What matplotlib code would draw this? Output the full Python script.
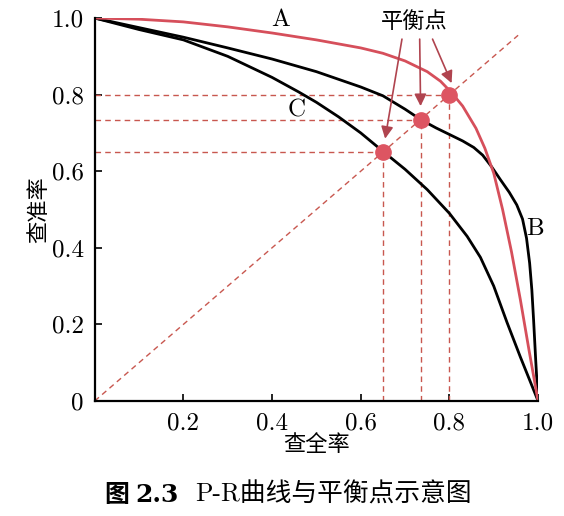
import matplotlib
matplotlib.use("Agg")
import matplotlib.pyplot as plt

# curve A (red)
a_x = [0, 0.1, 0.2, 0.3, 0.4, 0.5, 0.6, 0.65, 0.7, 0.75, 0.78, 0.805, 0.83, 0.86, 0.88, 0.9, 0.92, 0.94, 0.96, 0.98, 1.0]
a_y = [1.0, 0.997, 0.99, 0.977, 0.961, 0.943, 0.922, 0.908, 0.888, 0.86, 0.835, 0.805, 0.77, 0.712, 0.66, 0.595, 0.5, 0.39, 0.265, 0.13, 0.0]
# curve B (black, outer)
b_x = [0, 0.1, 0.2, 0.3, 0.4, 0.5, 0.55, 0.6, 0.65, 0.7, 0.735, 0.77, 0.8, 0.83, 0.855, 0.875, 0.895, 0.915, 0.935, 0.952, 0.965, 0.974, 0.981, 0.986, 0.99, 0.995, 1.0]
b_y = [1.0, 0.975, 0.95, 0.922, 0.893, 0.86, 0.84, 0.82, 0.797, 0.762, 0.735, 0.713, 0.696, 0.679, 0.662, 0.642, 0.612, 0.578, 0.545, 0.512, 0.475, 0.425, 0.36, 0.29, 0.21, 0.1, 0.0]
# curve C (black, inner)
c_x = [0, 0.1, 0.2, 0.3, 0.4, 0.46, 0.5, 0.55, 0.6, 0.65, 0.7, 0.75, 0.8, 0.84, 0.87, 0.9, 0.93, 0.96, 1.0]
c_y = [1.0, 0.97, 0.943, 0.9, 0.845, 0.807, 0.78, 0.742, 0.7, 0.652, 0.605, 0.552, 0.49, 0.43, 0.375, 0.3, 0.205, 0.115, 0.0]

# break-even points
bep = [0.65, 0.735, 0.80]

red = "#d64f5b"
dash = "#c8574f"
dot = "#dd5562"
arrow_c = "#b0444f"

fig = plt.figure(figsize=(5.64, 5.16), dpi=100)
ax = fig.add_axes([0.168, 0.223, 0.786, 0.742])

# dashed guide lines
ax.plot([0, 0.955], [0, 0.955], ls=(0, (4, 3)), color=dash, lw=1.0)
for p in bep:
    ax.plot([0, p], [p, p], ls=(0, (4, 3)), color=dash, lw=1.0)
    ax.plot([p, p], [0, p], ls=(0, (4, 3)), color=dash, lw=1.0)

ax.plot(c_x, c_y, color="black", lw=2.0)
ax.plot(b_x, b_y, color="black", lw=2.0)
ax.plot(a_x, a_y, color=red, lw=2.0)

ax.plot(bep, bep, "o", color=dot, ms=11, zorder=5)

serif = ["cmr10", "Noto Sans CJK SC"]
ax.text(0.42, 0.995, "A", fontsize=18, family=serif, ha="center", va="center")
ax.text(0.993, 0.45, "B", fontsize=18, family=serif, ha="center", va="center")
ax.text(0.455, 0.758, "C", fontsize=18, family=serif, ha="center", va="center")

ax.text(0.72, 0.99, "平衡点", fontsize=16, family=serif, ha="center", va="center")
starts = [(0.693, 0.945), (0.733, 0.945), (0.762, 0.945)]
ends = [(0.655, 0.685), (0.735, 0.77), (0.805, 0.83)]
for s, e in zip(starts, ends):
    ax.annotate("", xy=e, xytext=s,
                arrowprops=dict(arrowstyle="-|>", color=arrow_c, lw=1.2,
                                mutation_scale=18, shrinkA=0, shrinkB=0))

ax.set_xlim(0, 1.0)
ax.set_ylim(0, 1.0)
ax.spines["top"].set_visible(False)
ax.spines["right"].set_visible(False)
ax.spines["left"].set_linewidth(1.6)
ax.spines["bottom"].set_linewidth(1.6)

ax.set_xticks([0.2, 0.4, 0.6, 0.8, 1.0])
ax.set_xticklabels(["0.2", "0.4", "0.6", "0.8", "1.0"], family=serif, fontsize=18)
ax.set_yticks([0, 0.2, 0.4, 0.6, 0.8, 1.0])
ax.set_yticklabels(["0", "0.2", "0.4", "0.6", "0.8", "1.0"], family=serif, fontsize=18)
ax.tick_params(direction="in", length=5, width=1.2, pad=8)

ax.set_xlabel("查全率", family=serif, fontsize=16, labelpad=0)
ax.set_ylabel("查准率", family=serif, fontsize=16, labelpad=2)

fig.text(104 / 564, 0.041, "图", family="Noto Sans CJK SC",
         fontweight="bold", fontsize=18, ha="left", va="center")
fig.text(135 / 564, 0.041, "2.3", family="DejaVu Serif",
         fontweight="bold", fontsize=18, ha="left", va="center")
fig.text(195 / 564, 0.041, "P-R曲线与平衡点示意图", family=serif,
         fontsize=18.5, ha="left", va="center")

fig.savefig("out.png", dpi=100)
